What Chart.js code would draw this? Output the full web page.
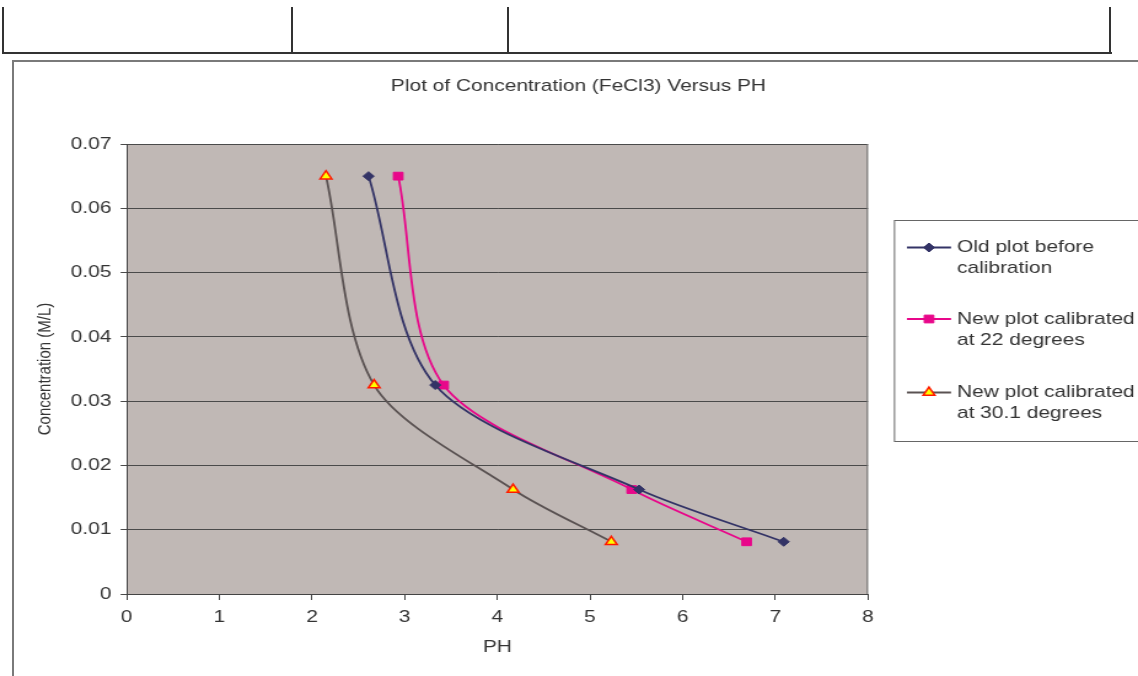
<!DOCTYPE html>
<html>
<head>
<meta charset="utf-8">
<script src="https://cdn.jsdelivr.net/npm/chart.js@4"></script>
<style>
  body { margin: 0; background: #fff; width: 1138px; height: 676px; overflow: hidden; position: relative; }
  .v { position: absolute; top: 7px; width: 2px; height: 47px; background: #333; }
  .h { position: absolute; top: 52px; left: 2px; width: 1110px; height: 2px; background: #333; }
  .frame { position: absolute; left: 12px; top: 60px; width: 1200px; height: 700px;
           border-left: 2px solid #7a7a7a; border-top: 2px solid #7a7a7a; }
  #chart { position: absolute; left: 0; top: 0; width: 926px; height: 676px;
           transform: scaleX(1.22894); transform-origin: 0 0; }
</style>
</head>
<body>
<div class="v" style="left:2px"></div>
<div class="v" style="left:291px"></div>
<div class="v" style="left:507px"></div>
<div class="v" style="left:1109px"></div>
<div class="h"></div>
<div class="frame"></div>
<canvas id="chart" width="926" height="676"></canvas>
<script>
// concentration (M/L), same for every run
const conc = [0.065, 0.0325, 0.01625, 0.008125];

// pH readings
const phOld = [2.61, 3.33, 5.53, 7.09];
const ph22 = [2.93, 3.42, 5.45, 6.69];
const ph30 = [2.15, 2.67, 4.17, 5.23];

const seriesNames = [
    ["Old plot before", "calibration"],
    ["New plot calibrated", "at 22 degrees"],
    ["New plot calibrated", "at 30.1 degrees"]
];

const xTicks = [0, 1, 2, 3, 4, 5, 6, 7, 8];
const yTicks = [0, 0.01, 0.02, 0.03, 0.04, 0.05, 0.06, 0.07];

const FONT = "'Liberation Sans', Arial, sans-serif";
const S = 1138 / 926; // canvas is stretched sideways

function pts(xs) {
    return xs.map((x, i) => ({ x: x, y: conc[i] }));
}

const styles = [
    { color: "#333366", pointStyle: "rectRot", radius: 4.5, bg: "#333366", bc: "#333366", bw: 1 },
    { color: "#e8078a", pointStyle: "rect", radius: 5.5, bg: "#e8078a", bc: "#e8078a", bw: 1 },
    { color: "#5a5252", pointStyle: "triangle", radius: 5.5, bg: "#ffff00", bc: "#ff1a00", bw: 1.5 }
];

const allX = [phOld, ph22, ph30];

const datasets = allX.map((xs, i) => ({
    label: seriesNames[i].join(" "),
    data: pts(xs),
    showLine: true,
    tension: 0.3,
    borderColor: styles[i].color,
    borderWidth: 1.8,
    pointStyle: styles[i].pointStyle,
    pointRadius: styles[i].radius,
    pointBackgroundColor: styles[i].bg,
    pointBorderColor: styles[i].bc,
    pointBorderWidth: styles[i].bw,
    xAxisID: "x",
    yAxisID: "y"
}));

const plotBg = {
    id: "plotBg",
    beforeDraw(chart) {
        const a = chart.chartArea;
        const c = chart.ctx;
        c.save();
        c.fillStyle = "#c0b8b5";
        c.fillRect(a.left, a.top, a.right - a.left, a.bottom - a.top);
        c.restore();
    },
    beforeDatasetsDraw(chart) {
        const a = chart.chartArea;
        const c = chart.ctx;
        c.save();
        c.strokeStyle = "#6e6e6e";
        c.lineWidth = 1;
        c.beginPath();
        c.moveTo(a.right - 0.5, a.top);
        c.lineTo(a.right - 0.5, a.bottom);
        c.stroke();
        c.restore();
    }
};

const sideLegend = {
    id: "sideLegend",
    afterDraw(chart) {
        const c = chart.ctx;
        const left = 894.5 / S;
        const top = 220.5;
        const bottom = 441.5;
        c.save();
        c.strokeStyle = "#666";
        c.lineWidth = 1;
        c.strokeRect(left, top, 940 - left, bottom - top);

        const rows = [247.5, 319, 392.5];
        const x0 = 907 / S, x1 = 951 / S, mx = 929 / S, tx = 957 / S;
        c.font = "17px " + FONT;
        c.textBaseline = "middle";
        c.textAlign = "left";
        rows.forEach((y, i) => {
            const st = styles[i];
            c.strokeStyle = st.color;
            c.lineWidth = 1.8;
            c.beginPath();
            c.moveTo(x0, y);
            c.lineTo(x1, y);
            c.stroke();
            c.fillStyle = st.bg;
            c.strokeStyle = st.bc;
            c.lineWidth = st.bw;
            Chart.helpers.drawPoint(c, {
                pointStyle: st.pointStyle,
                radius: st.radius,
                rotation: 0,
                borderWidth: st.bw
            }, mx, y);
            c.fillStyle = "#333";
            seriesNames[i].forEach((t, k) => c.fillText(t, tx, y + k * 21));
        });
        c.restore();
    }
};

new Chart(document.getElementById("chart"), {
    type: "scatter",
    data: { datasets: datasets },
    options: {
        responsive: false,
        animation: false,
        devicePixelRatio: 1,
        layout: { padding: { left: 15.4, right: 0, top: 0, bottom: 0 } },
        plugins: {
            legend: { display: false },
            tooltip: { enabled: false },
            title: {
                display: true,
                text: "Plot of Concentration (FeCl3) Versus PH",
                color: "#333",
                font: { family: FONT, size: 17, weight: "normal" },
                padding: { top: 76, bottom: 47.6 }
            }
        },
        scales: {
            x: {
                type: "linear",
                min: 0,
                max: 8,
                afterBuildTicks: s => { s.ticks = xTicks.map(v => ({ value: v })); },
                afterFit: s => { s.height = 82; },
                grid: { drawOnChartArea: false, tickLength: 6, color: "#444" },
                border: { color: "#444", width: 1 },
                ticks: { color: "#333", padding: 7, font: { family: FONT, size: 17 } },
                title: {
                    display: true,
                    text: "PH",
                    color: "#333",
                    font: { family: FONT, size: 17 },
                    padding: { top: 0, bottom: 18 }
                }
            },
            y: {
                type: "linear",
                min: 0,
                max: 0.07,
                afterBuildTicks: s => { s.ticks = yTicks.map(v => ({ value: v })); },
                afterFit: s => { s.width = 87.7; },
                grid: { color: "#4a4a4a", tickLength: 5, lineWidth: 1 },
                border: { color: "#444", width: 1 },
                ticks: {
                    color: "#333",
                    padding: 7.4,
                    font: { family: FONT, size: 17 },
                    callback: v => v === 0 ? "0" : v.toFixed(2)
                },
                title: {
                    display: true,
                    text: "Concentration (M/L)",
                    color: "#333",
                    font: { family: FONT, size: 15 },
                    padding: { top: 12.2, bottom: 0 }
                }
            },
            // empty space on the right that holds the legend
            legendSpace: {
                type: "linear",
                axis: "y",
                position: "right",
                grid: { display: false },
                border: { display: false },
                ticks: { display: false },
                afterFit: s => { s.width = 219.7; }
            }
        }
    },
    plugins: [plotBg, sideLegend]
});
</script>
</body>
</html>
